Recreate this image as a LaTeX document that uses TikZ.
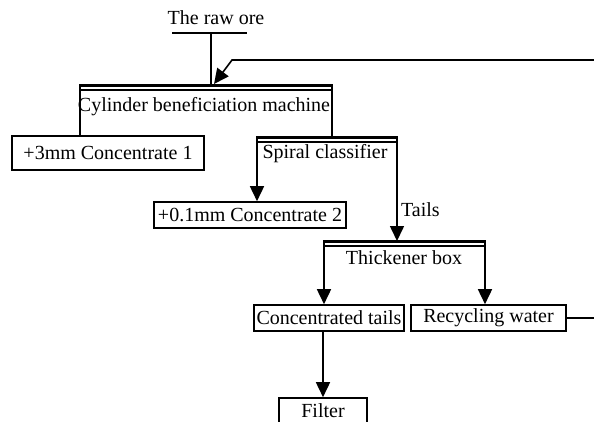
\documentclass[tikz,border=0pt]{standalone}
\usepackage{fontspec}
\setmainfont{Liberation Serif}
\usetikzlibrary{arrows.meta}

\begin{document}
\begin{tikzpicture}[x=1pt, y=-1pt,
  every node/.style={font=\fontsize{20}{24}\selectfont},
  box/.style={draw, line width=1.6pt, inner sep=0pt, minimum height=26pt},
  line/.style={line width=1.6pt},
  flow/.style={line width=1.6pt, -{Triangle[width=14pt,length=15pt]}},
  bar/.style={line width=3pt},
  subbar/.style={line width=1.1pt}]

\useasboundingbox (0,0) rectangle (594,421);

% feed
\node (raw) at (216,18) {The raw ore};
\coordinate (feed) at (211,33);
\draw[line] (172,33) -- (247,33);

% units with an open top
\coordinate (cylL) at (80,85);
\coordinate (cylR) at (332,85);
\coordinate (spiL) at (257,137);
\coordinate (spiR) at (397,137);
\coordinate (thkL) at (324,241);
\coordinate (thkR) at (485,241);
\foreach \a/\b in {cylL/cylR, spiL/spiR, thkL/thkR} {
  \draw[bar] ([xshift=-0.8pt]\a) -- ([xshift=0.8pt]\b);
  \draw[subbar] ([yshift=-5pt]\a) -- ([yshift=-5pt]\b);
}

\node (cyl) at (204,107) {Cylinder beneficiation machine};
\node (spi) at (325,154) {Spiral classifier};
\node (thk) at (404,258) {Thickener box};

% products
\node[box, minimum width=192pt, minimum height=34pt] (conc1) at (108,153) {+3mm Concentrate 1};
\node[box, minimum width=192pt] (conc2) at (250,215) {+0.1mm Concentrate 2};
\node[box, minimum width=150pt] (ctails) at (329,318) {Concentrated tails};
\node[box, minimum width=155pt] (recyc) at (488.5,318) {Recycling water};
\node[box, minimum width=88pt] (filter) at (323,411) {Filter};

% flows
\draw[line] (feed) -- (feed |- cylL);
\draw[line] (cylL) -- (cylL |- conc1.north);
\draw[line] (cylR) -- (cylR |- spiL);
\draw[flow] (spiL) -- (spiL |- conc2.north);
\draw[flow] (spiR) -- node[right, pos=0.7] {Tails} (spiR |- thkL);
\draw[flow] (thkL) -- (thkL |- ctails.north);
\draw[flow] (thkR) -- (thkR |- recyc.north);
\draw[flow] (ctails.south -| filter.north) -- (filter.north);

% recycling water back to the machine
\coordinate (edgelow) at (594,318);
\coordinate (edgetop) at (594,60);
\coordinate (bend) at (232,60);
\coordinate (inlet) at (214,84);
\draw[line] (recyc.east) -- (edgelow);
\draw[flow] (edgetop) -- (bend) -- (inlet);
\end{tikzpicture}
\end{document}
